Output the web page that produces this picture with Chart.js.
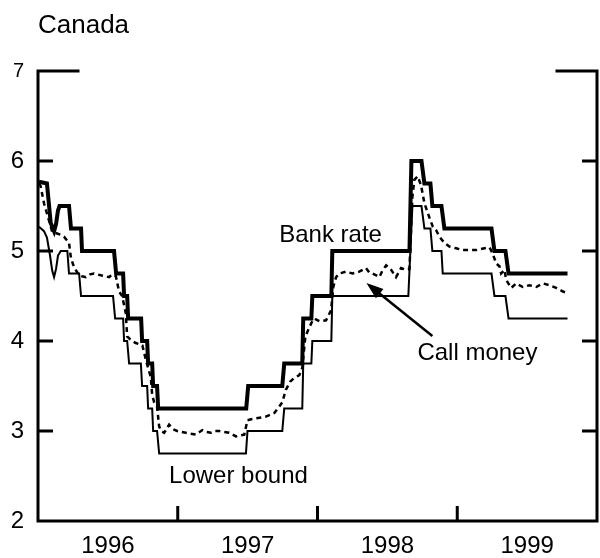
<!DOCTYPE html>
<html>
<head>
<meta charset="utf-8">
<script src="https://cdn.jsdelivr.net/npm/chart.js@4.4.1/dist/chart.umd.min.js"></script>
<style>
  html, body { margin: 0; padding: 0; background: #fff; }
</style>
</head>
<body>
<canvas id="rateChart" width="600" height="558"></canvas>
<script>
  // x values are decimal years
  const bankDates = [1996.007, 1996.064, 1996.091, 1996.115, 1996.129, 1996.143, 1996.154, 1996.222, 1996.236, 1996.308,
    1996.315, 1996.544, 1996.559, 1996.609, 1996.616, 1996.638, 1996.645, 1996.738, 1996.745, 1996.781,
    1996.788, 1996.817, 1996.824, 1996.852, 1996.860, 1997.490, 1997.504, 1997.748, 1997.762, 1997.891,
    1997.898, 1997.956, 1997.963, 1998.099, 1998.106, 1998.658, 1998.672, 1998.744, 1998.765, 1998.808,
    1998.822, 1998.887, 1998.908, 1999.245, 1999.266, 1999.345, 1999.367, 1999.789];
  const bankRate = [5.77, 5.75, 5.31, 5.22, 5.30, 5.45, 5.50, 5.50, 5.25, 5.25,
    5.00, 5.00, 4.75, 4.75, 4.50, 4.50, 4.25, 4.25, 4.00, 4.00,
    3.75, 3.75, 3.50, 3.50, 3.25, 3.25, 3.50, 3.50, 3.75, 3.75,
    4.25, 4.25, 4.50, 4.50, 5.00, 5.00, 6.00, 6.00, 5.75, 5.75,
    5.50, 5.50, 5.25, 5.25, 5.00, 5.00, 4.75, 4.75];

  const lowerDates = [1996.007, 1996.043, 1996.064, 1996.086, 1996.102, 1996.115, 1996.129, 1996.143, 1996.163, 1996.210,
    1996.222, 1996.294, 1996.308, 1996.537, 1996.552, 1996.609, 1996.616, 1996.638, 1996.652, 1996.736,
    1996.745, 1996.781, 1996.788, 1996.817, 1996.824, 1996.852, 1996.867, 1997.488, 1997.499, 1997.748,
    1997.762, 1997.891, 1997.898, 1997.956, 1997.963, 1998.099, 1998.106, 1998.650, 1998.679, 1998.744,
    1998.765, 1998.808, 1998.822, 1998.887, 1998.896, 1999.245, 1999.266, 1999.345, 1999.367, 1999.789];
  const lowerBound = [5.27, 5.22, 5.15, 4.95, 4.78, 4.71, 4.80, 4.95, 5.00, 5.00,
    4.75, 4.75, 4.50, 4.50, 4.25, 4.25, 4.00, 4.00, 3.75, 3.75,
    3.50, 3.50, 3.25, 3.25, 3.00, 3.00, 2.75, 2.75, 3.00, 3.00,
    3.25, 3.25, 3.75, 3.75, 4.00, 4.00, 4.50, 4.50, 5.50, 5.50,
    5.25, 5.25, 5.00, 5.00, 4.75, 4.75, 4.50, 4.50, 4.25, 4.25];

  const callDates = [1996.007, 1996.019, 1996.043, 1996.067, 1996.086, 1996.102, 1996.127, 1996.163, 1996.186, 1996.222,
    1996.234, 1996.251, 1996.270, 1996.294, 1996.315, 1996.342, 1996.372, 1996.401, 1996.449, 1996.480,
    1996.509, 1996.530, 1996.557, 1996.580, 1996.602, 1996.628, 1996.638, 1996.659, 1996.695, 1996.731,
    1996.747, 1996.772, 1996.788, 1996.807, 1996.817, 1996.831, 1996.852, 1996.867, 1996.881, 1996.903,
    1996.938, 1996.967, 1996.996, 1997.024, 1997.058, 1997.089, 1997.130, 1997.175, 1997.203, 1997.237,
    1997.268, 1997.297, 1997.332, 1997.368, 1997.416, 1997.447, 1997.476, 1997.499, 1997.526, 1997.559,
    1997.597, 1997.631, 1997.662, 1997.691, 1997.726, 1997.748, 1997.774, 1997.805, 1997.834, 1997.870,
    1997.891, 1997.913, 1997.941, 1997.963, 1997.977, 1998.013, 1998.061, 1998.097, 1998.113, 1998.133,
    1998.156, 1998.204, 1998.251, 1998.299, 1998.347, 1998.371, 1998.395, 1998.443, 1998.464, 1998.491,
    1998.527, 1998.562, 1998.598, 1998.634, 1998.658, 1998.679, 1998.693, 1998.717, 1998.741, 1998.765,
    1998.801, 1998.825, 1998.849, 1998.872, 1998.908, 1998.944, 1998.992, 1999.039, 1999.087, 1999.135,
    1999.195, 1999.231, 1999.254, 1999.279, 1999.302, 1999.314, 1999.338, 1999.350, 1999.386, 1999.422,
    1999.469, 1999.517, 1999.565, 1999.612, 1999.660, 1999.708, 1999.756, 1999.792];
  const callMoney = [5.75, 5.72, 5.53, 5.40, 5.30, 5.21, 5.20, 5.18, 5.16, 5.09,
    4.94, 4.85, 4.79, 4.73, 4.72, 4.71, 4.74, 4.75, 4.73, 4.72,
    4.71, 4.74, 4.72, 4.55, 4.50, 4.31, 4.05, 4.02, 3.98, 3.96,
    3.95, 3.79, 3.70, 3.60, 3.40, 3.32, 3.27, 3.05, 3.00, 2.98,
    3.07, 3.02, 3.00, 2.99, 2.98, 2.97, 2.96, 3.01, 2.99, 2.98,
    3.00, 3.00, 2.99, 2.98, 2.94, 2.95, 2.96, 3.12, 3.13, 3.14,
    3.15, 3.16, 3.18, 3.20, 3.27, 3.32, 3.46, 3.55, 3.59, 3.62,
    3.70, 4.05, 4.15, 4.22, 4.25, 4.22, 4.23, 4.34, 4.60, 4.71,
    4.75, 4.77, 4.75, 4.77, 4.81, 4.76, 4.75, 4.71, 4.78, 4.84,
    4.79, 4.71, 4.81, 4.79, 4.80, 5.60, 5.79, 5.83, 5.73, 5.53,
    5.37, 5.27, 5.23, 5.16, 5.09, 5.05, 5.03, 5.01, 5.01, 5.01,
    5.03, 5.04, 4.97, 4.86, 4.83, 4.75, 4.79, 4.68, 4.59, 4.64,
    4.60, 4.62, 4.60, 4.64, 4.62, 4.59, 4.55, 4.53];

  const yearBreaks = [1997, 1998, 1999];     // small tick marks on the bottom axis
  const yearLabels = [1996, 1997, 1998, 1999]; // labels sit in the middle of each year
  const rateTicks = [3, 4, 5, 6];            // inner tick marks on both sides

  const FONT = '"Liberation Sans", Arial, Helvetica, sans-serif';

  function toPoints(xs, ys) {
    return xs.map((x, i) => ({ x: x, y: ys[i] }));
  }

  // frame: left, right and bottom lines, corner ticks at 7, inward ticks
  const framePlugin = {
    id: 'frame',
    afterDraw(chart) {
      const ctx = chart.ctx;
      const xs = chart.scales.x;
      const ys = chart.scales.y;
      const L = xs.getPixelForValue(1996), R = xs.getPixelForValue(2000);
      const T = ys.getPixelForValue(7), B = ys.getPixelForValue(2);
      ctx.save();
      ctx.strokeStyle = '#000';
      ctx.lineWidth = 3;
      ctx.lineCap = 'square';
      ctx.beginPath();
      ctx.moveTo(L + 40, T); ctx.lineTo(L, T); ctx.lineTo(L, B); ctx.lineTo(R, B); ctx.lineTo(R, T); ctx.lineTo(R - 40, T);
      ctx.stroke();
      ctx.lineCap = 'butt';
      ctx.beginPath();
      rateTicks.forEach(v => {
        const py = ys.getPixelForValue(v);
        ctx.moveTo(L, py); ctx.lineTo(L + 15, py);
        ctx.moveTo(R, py); ctx.lineTo(R - 15, py);
      });
      yearBreaks.forEach(v => {
        const px = xs.getPixelForValue(v);
        ctx.moveTo(px, B); ctx.lineTo(px, B - 15);
      });
      ctx.stroke();
      ctx.restore();
    }
  };

  // series names and the arrow, placed in data units
  const labelPlugin = {
    id: 'labels',
    afterDraw(chart) {
      const ctx = chart.ctx;
      const xs = chart.scales.x;
      const ys = chart.scales.y;
      ctx.save();
      ctx.fillStyle = '#000';
      ctx.textBaseline = 'alphabetic';
      ctx.textAlign = 'left';
      ctx.font = '26px ' + FONT;
      ctx.fillText('Canada', 38, 33);
      ctx.font = '24px ' + FONT;
      ctx.fillText('Bank rate', xs.getPixelForValue(1997.726), ys.getPixelForValue(5.10));
      ctx.fillText('Lower bound', xs.getPixelForValue(1996.938), ys.getPixelForValue(2.42));
      ctx.fillText('Call money', xs.getPixelForValue(1998.715), ys.getPixelForValue(3.79));

      // arrow from "Call money" to the dashed line
      const x0 = xs.getPixelForValue(1998.822), y0 = ys.getPixelForValue(4.056);
      const x1 = xs.getPixelForValue(1998.350), y1 = ys.getPixelForValue(4.644);
      const ang = Math.atan2(y1 - y0, x1 - x0);
      ctx.strokeStyle = '#000';
      ctx.lineWidth = 2.5;
      ctx.beginPath();
      ctx.moveTo(x0, y0);
      ctx.lineTo(x1 - 12 * Math.cos(ang), y1 - 12 * Math.sin(ang));
      ctx.stroke();
      ctx.beginPath();
      ctx.moveTo(x1, y1);
      ctx.lineTo(x1 - 17 * Math.cos(ang) + 6 * Math.sin(ang), y1 - 17 * Math.sin(ang) - 6 * Math.cos(ang));
      ctx.lineTo(x1 - 17 * Math.cos(ang) - 6 * Math.sin(ang), y1 - 17 * Math.sin(ang) + 6 * Math.cos(ang));
      ctx.closePath();
      ctx.fill();
      ctx.restore();
    }
  };

  var ctx = document.getElementById('rateChart').getContext('2d');
  new Chart(ctx, {
    type: 'line',
    data: {
      datasets: [{
        label: 'Bank rate',
        data: toPoints(bankDates, bankRate),
        borderColor: '#000',
        borderWidth: 4,
        pointRadius: 0,
        tension: 0
      }, {
        label: 'Lower bound',
        data: toPoints(lowerDates, lowerBound),
        borderColor: '#000',
        borderWidth: 2,
        pointRadius: 0,
        tension: 0
      }, {
        label: 'Call money',
        data: toPoints(callDates, callMoney),
        borderColor: '#000',
        borderWidth: 2.5,
        borderDash: [5, 4],
        pointRadius: 0,
        tension: 0
      }]
    },
    options: {
      responsive: false,
      animation: false,
      layout: { padding: { top: 71, right: 3, left: 0, bottom: 0 } },
      scales: {
        x: {
          type: 'linear',
          min: 1996,
          max: 2000,
          grid: { display: false, drawTicks: false },
          border: { display: false },
          afterBuildTicks: (s) => { s.ticks = yearLabels.map(y => ({ value: y + 0.5 })); },
          afterFit: (s) => { s.height = 37; },
          ticks: {
            autoSkip: false,
            maxRotation: 0,
            padding: 11,
            color: '#000',
            font: { family: FONT, size: 24 },
            callback: (v) => String(Math.floor(v))
          }
        },
        y: {
          min: 2,
          max: 7,
          grid: { display: false, drawTicks: false },
          border: { display: false },
          afterFit: (s) => { s.width = 38; },
          ticks: {
            stepSize: 1,
            padding: 14,
            color: '#000',
            font: (c) => ({ family: FONT, size: (c.tick && c.tick.value === 7) ? 20 : 24 })
          }
        }
      },
      plugins: {
        legend: { display: false },
        tooltip: { enabled: false }
      }
    },
    plugins: [framePlugin, labelPlugin]
  });
</script>
</body>
</html>
